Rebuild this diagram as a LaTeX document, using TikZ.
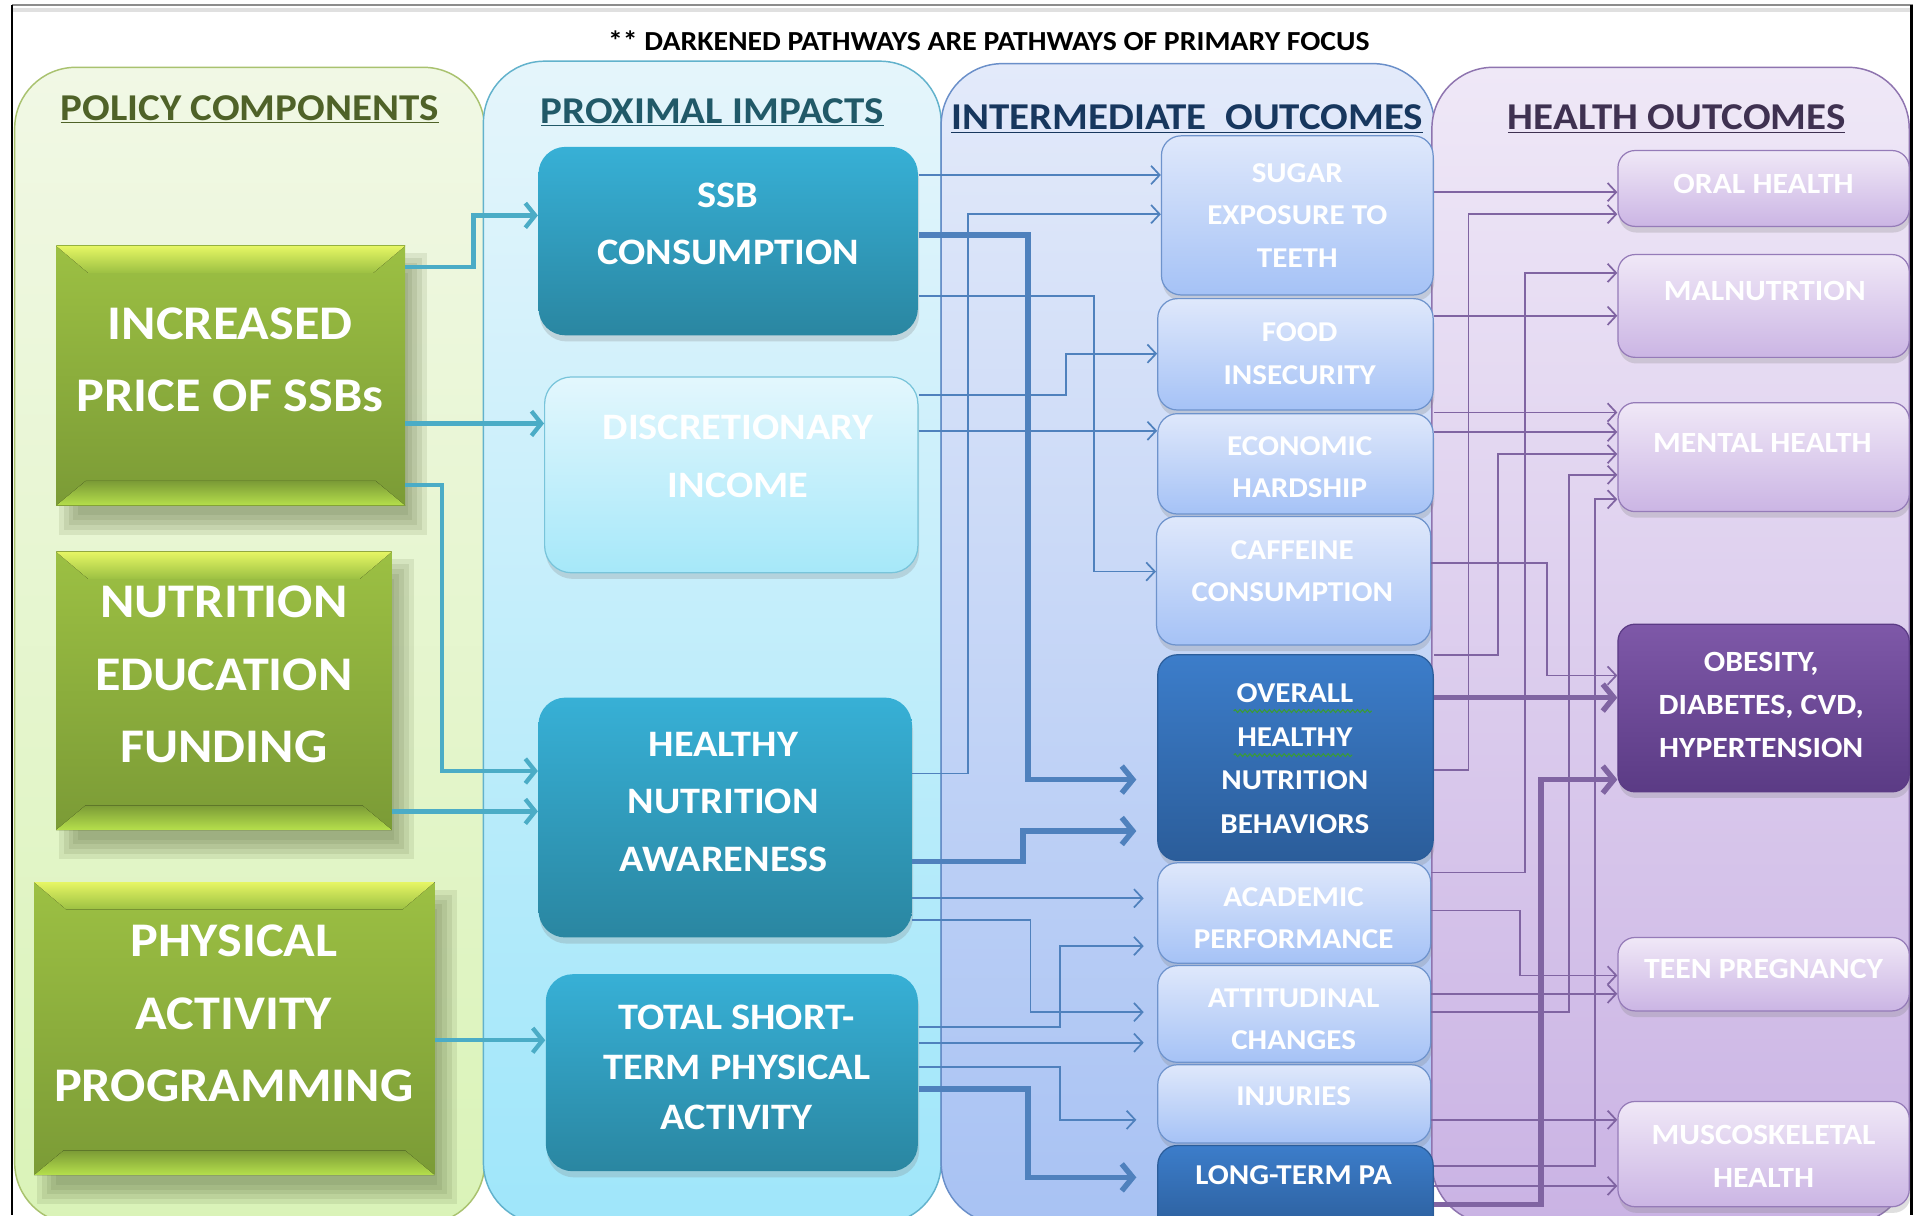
\documentclass[tikz,border=0pt]{standalone}
\usepackage{fontspec}
\setmainfont{Carlito}[FakeStretch=1.08]
\usepackage{tikz}
\usetikzlibrary{arrows.meta, fit, shadows, decorations.pathmorphing}

% lane backgrounds
\definecolor{policytop}{HTML}{F1F8E5}
\definecolor{policybot}{HTML}{DAF3B8}
\definecolor{policyrule}{HTML}{A9C26F}
\definecolor{proxtop}{HTML}{E5F5FB}
\definecolor{proxbot}{HTML}{9FE6FA}
\definecolor{proxrule}{HTML}{62B2CC}
\definecolor{midtop}{HTML}{E3EAFA}
\definecolor{midbot}{HTML}{A8C2F3}
\definecolor{midrule}{HTML}{6A8FC9}
\definecolor{healthtop}{HTML}{EFE8F7}
\definecolor{healthbot}{HTML}{CAB3E4}
\definecolor{healthrule}{HTML}{8E74AF}
% boxes
\definecolor{greenhi}{HTML}{E6F664}
\definecolor{greentop}{HTML}{9CC043}
\definecolor{greenbot}{HTML}{7B9B36}
\definecolor{greenlo}{HTML}{B6E04C}
\definecolor{greenshade}{HTML}{5E6E40}
\definecolor{tealtop}{HTML}{37B0D6}
\definecolor{tealbot}{HTML}{2A86A1}
\definecolor{palecyantop}{HTML}{E3F7FD}
\definecolor{palecyanbot}{HTML}{A6E8F9}
\definecolor{palecyanrule}{HTML}{78C4DA}
\definecolor{palebluetop}{HTML}{DFE8FB}
\definecolor{palebluebot}{HTML}{A5C2F6}
\definecolor{palebluerule}{HTML}{6E93CC}
\definecolor{deepbluetop}{HTML}{3C7DCA}
\definecolor{deepbluebot}{HTML}{2B5D9A}
\definecolor{palepurtop}{HTML}{F0E8F7}
\definecolor{palepurbot}{HTML}{CBB5E4}
\definecolor{palepurrule}{HTML}{957BB8}
\definecolor{deeppurtop}{HTML}{7E58A8}
\definecolor{deeppurbot}{HTML}{5B3B85}
% links and headings
\definecolor{linkteal}{HTML}{4BACC6}
\definecolor{linkblue}{HTML}{4F81BD}
\definecolor{linkpurple}{HTML}{8064A2}
\definecolor{hdrolive}{HTML}{4F6228}
\definecolor{hdrteal}{HTML}{215968}
\definecolor{hdrnavy}{HTML}{17375E}
\definecolor{hdrplum}{HTML}{3F3151}
\definecolor{spellgreen}{HTML}{3A9A3A}

\tikzset{
  lane/.style={line width=1.2pt, rounded corners=50pt},
  stagebox/.style={inner sep=0pt, line width=1pt, rounded corners=22pt},
  softshadow/.style={drop shadow={shadow xshift=1pt, shadow yshift=-5pt, opacity=0.25}},
  policybox/.style={inner sep=0pt, top color=greentop, bottom color=greenbot},
  tealbox/.style={stagebox, top color=tealtop, bottom color=tealbot, softshadow},
  cyanbox/.style={stagebox, draw=palecyanrule, top color=palecyantop, bottom color=palecyanbot, softshadow},
  midbox/.style={stagebox, rounded corners=16pt, draw=palebluerule, top color=palebluetop, bottom color=palebluebot, softshadow},
  middark/.style={stagebox, rounded corners=16pt, draw=deepbluebot, top color=deepbluetop, bottom color=deepbluebot, softshadow},
  outbox/.style={stagebox, rounded corners=14pt, draw=palepurrule, top color=palepurtop, bottom color=palepurbot, softshadow},
  outdark/.style={stagebox, rounded corners=14pt, draw=deeppurbot, top color=deeppurtop, bottom color=deeppurbot, softshadow},
  policytext/.style={text=white, align=center, font=\fontsize{39.5}{59}\selectfont\bfseries},
  impacttext/.style={text=white, align=center, font=\fontsize{30.5}{47}\selectfont\bfseries},
  midtext/.style={text=white, align=center, font=\fontsize{23.5}{34.5}\selectfont\bfseries},
  outtext/.style={text=white, align=center, font=\fontsize{24}{35}\selectfont\bfseries},
  header/.style={font=\fontsize{31}{36}\selectfont\bfseries},
  tealink/.style={draw=linkteal, line width=3.5pt, -{Straight Barb[length=8pt,width=20pt]}},
  bluelink/.style={draw=linkblue, line width=1.4pt, -{Straight Barb[length=7pt,width=15pt]}},
  bluebold/.style={draw=linkblue, line width=4.5pt, -{Straight Barb[length=9pt,width=22pt]}},
  purplink/.style={draw=linkpurple, line width=1.4pt, -{Straight Barb[length=7pt,width=15pt]}},
  purpbold/.style={draw=linkpurple, line width=4.5pt, -{Straight Barb[length=9pt,width=22pt]}},
  squiggle/.style={spellgreen, line width=0.9pt, decorate,
    decoration={snake, amplitude=1.2pt, segment length=4pt}}
}

% bevelled green block: name, x1, y1, x2, y2
\newcommand{\policyblock}[5]{%
  \foreach \s in {0,4,8,12,16}
    \fill[greenshade, opacity=0.13] (#2+2+\s,#3+6+\s) rectangle (#4+18-\s,#5+24-\s);
  \node[policybox, fit={(#2,#3) (#4,#5)}] (#1) {};
  \fill[top color=greenhi, bottom color=greentop]
    (#1.north west) -- (#1.north east) -- (#4-26,#3+22) -- (#2+26,#3+22) -- cycle;
  \fill[top color=greenbot, bottom color=greenlo]
    (#1.south west) -- (#1.south east) -- (#4-24,#5-20) -- (#2+24,#5-20) -- cycle;
}
% elbow link: style, from, y out, x of turn, y in, to
\newcommand{\pathway}[6]{%
  \draw[#1] (#2.east |- 0,#3) -| (#4,#5) -- (#6.west |- 0,#5);
}
% straight link: style, from, y, to
\newcommand{\straightway}[4]{%
  \draw[#1] (#2.east |- 0,#3) -- (#4.west |- 0,#3);
}

\begin{document}
\begin{tikzpicture}[x=1pt, y=-1pt]
  \useasboundingbox (0,0) rectangle (1568,993);
  \clip (0,0) rectangle (1568,993);
  \fill[white] (0,0) rectangle (1568,993);

  % frame
  \draw[black!12, line width=3pt] (10,8) -- (1563,8);
  \draw[black!45, line width=2pt] (10,4) -- (1563,4);

  % lanes
  \draw[lane, draw=policyrule, top color=policytop, bottom color=policybot] (12,55) rectangle (396,1000);
  \draw[lane, draw=proxrule, top color=proxtop, bottom color=proxbot] (395,50) rectangle (769,1000);
  \draw[lane, draw=midrule, top color=midtop, bottom color=midbot] (769,52) rectangle (1172,1000);
  \draw[lane, draw=healthrule, top color=healthtop, bottom color=healthbot] (1170,55) rectangle (1560,1000);

  \draw[black, line width=2pt] (10,4) -- (10,993);
  \draw[black, line width=2pt] (1562,4) -- (1562,993);

  \node[font=\fontsize{22.5}{26}\selectfont\bfseries] (banner) at (808,33)
    {** DARKENED PATHWAYS ARE PATHWAYS OF PRIMARY FOCUS};
  \node[header, hdrolive] (policyhdr) at (204,89) {\underline{POLICY COMPONENTS}};
  \node[header, hdrteal] (proxhdr) at (582,92) {\underline{PROXIMAL IMPACTS}};
  \node[header, hdrnavy] (midhdr) at (970,97) {\underline{INTERMEDIATE\ \ OUTCOMES}};
  \node[header, hdrplum] (healthhdr) at (1370,97) {\underline{HEALTH OUTCOMES}};

  % policy components
  \policyblock{price}{46}{201}{331}{413}
  \policyblock{nutri}{46}{451}{320}{678}
  \policyblock{phys}{28}{721}{355}{960}
  \node[policytext] (price-lbl) at (188,294) {INCREASED\\PRICE OF SSBs};
  \node[policytext] (nutri-lbl) at (183,551) {NUTRITION\\EDUCATION\\FUNDING};
  \node[policytext] (phys-lbl) at (191,828) {PHYSICAL\\ACTIVITY\\PROGRAMMING};

  % proximal impacts
  \node[tealbox, fit={(440,120) (750,274)}] (ssb) {};
  \node[cyanbox, fit={(445,308) (750,468)}] (disc) {};
  \node[tealbox, fit={(440,570) (745,766)}] (aware) {};
  \node[tealbox, fit={(446,796) (750,957)}] (total) {};
  \node[impacttext] (ssb-lbl) at (595,183) {SSB\\CONSUMPTION};
  \node[impacttext] (disc-lbl) at (603,373) {DISCRETIONARY\\INCOME};
  \node[impacttext] (aware-lbl) at (591,655) {HEALTHY\\NUTRITION\\AWARENESS};
  \node[impacttext, font=\fontsize{30.5}{41}\selectfont\bfseries] (total-lbl) at (602,872)
    {TOTAL SHORT-\\TERM PHYSICAL\\ACTIVITY};

  % intermediate outcomes
  \node[midbox, fit={(949,111) (1171,241)}] (sugar) {};
  \node[midbox, fit={(946,244) (1171,335)}] (food) {};
  \node[midbox, fit={(946,338) (1171,420)}] (econ) {};
  \node[midbox, fit={(945,422) (1169,527)}] (caff) {};
  \node[middark, fit={(946,535) (1171,703)}] (overall) {};
  \node[midbox, fit={(946,705) (1169,787)}] (acad) {};
  \node[midbox, fit={(946,789) (1169,868)}] (attit) {};
  \node[midbox, fit={(946,870) (1169,934)}] (injur) {};
  \node[middark, fit={(946,936) (1171,1010)}] (longpa) {};
  \node[midtext] (sugar-lbl) at (1060,176) {SUGAR\\EXPOSURE TO\\TEETH};
  \node[midtext] (food-lbl) at (1062,289) {FOOD\\INSECURITY};
  \node[midtext] (econ-lbl) at (1062,382) {ECONOMIC\\HARDSHIP};
  \node[midtext] (caff-lbl) at (1056,467) {CAFFEINE\\CONSUMPTION};
  \node[midtext, font=\fontsize{23.5}{35.5}\selectfont\bfseries] (overall-lbl) at (1058,620)
    {OVERALL\\HEALTHY\\NUTRITION\\BEHAVIORS};
  \node[midtext] (acad-lbl) at (1057,750) {ACADEMIC\\PERFORMANCE};
  \node[midtext] (attit-lbl) at (1057,833) {ATTITUDINAL\\CHANGES};
  \node[midtext] (injur-lbl) at (1057,896) {INJURIES};
  \node[midtext] (longpa-lbl) at (1057,960) {LONG-TERM PA};
  \draw[squiggle] (1008,581) -- (1121,581);
  \draw[squiggle] (1008,617) -- (1105,617);

  % health outcomes
  \node[outbox, fit={(1322,123) (1560,185)}] (oral) {};
  \node[outbox, fit={(1322,208) (1560,292)}] (maln) {};
  \node[outbox, fit={(1322,329) (1560,418)}] (mental) {};
  \node[outdark, fit={(1322,510) (1560,647)}] (obes) {};
  \node[outbox, fit={(1322,766) (1560,826)}] (teen) {};
  \node[outbox, fit={(1322,900) (1560,986)}] (musc) {};
  \node[outtext] (oral-lbl) at (1441,150) {ORAL HEALTH};
  \node[outtext] (maln-lbl) at (1442,238) {MALNUTRTION};
  \node[outtext] (mental-lbl) at (1440,362) {MENTAL HEALTH};
  \node[outtext] (obes-lbl) at (1439,576) {OBESITY,\\DIABETES, CVD,\\HYPERTENSION};
  \node[outtext] (teen-lbl) at (1441,792) {TEEN PREGNANCY};
  \node[outtext] (musc-lbl) at (1441,945) {MUSCOSKELETAL\\HEALTH};

  % policy components -> proximal impacts
  \pathway{tealink}{price}{218}{387}{176}{ssb}
  \straightway{tealink}{price}{346}{disc}
  \pathway{tealink}{price}{396}{361}{630}{aware}
  \straightway{tealink}{nutri}{663}{aware}
  \straightway{tealink}{phys}{850}{total}

  % proximal impacts -> intermediate outcomes
  \straightway{bluelink}{ssb}{143}{sugar}
  \pathway{bluebold, shorten >=17pt}{ssb}{192}{840}{637}{overall}
  \pathway{bluelink}{ssb}{242}{894}{467}{caff}
  \pathway{bluelink}{disc}{323}{871}{289}{food}
  \straightway{bluelink}{disc}{352}{econ}
  \pathway{bluelink}{aware}{632}{791}{175}{sugar}
  \pathway{bluebold, shorten >=17pt}{aware}{704}{836}{679}{overall}
  \straightway{bluelink, shorten >=11pt}{aware}{734}{acad}
  \pathway{bluelink, shorten >=11pt}{aware}{752}{842}{827}{attit}
  \pathway{bluelink, shorten >=11pt}{total}{839}{866}{773}{acad}
  \straightway{bluelink, shorten >=11pt}{total}{852}{attit}
  \pathway{bluelink, shorten >=17pt}{total}{872}{866}{915}{injur}
  \pathway{bluebold, shorten >=17pt}{total}{890}{840}{962}{longpa}

  % intermediate outcomes -> health outcomes
  \straightway{purplink}{sugar}{157}{oral}
  \pathway{purplink}{overall}{629}{1200}{175}{oral}
  \straightway{purplink}{food}{258}{maln}
  \pathway{purplink}{acad}{713}{1246}{223}{maln}
  \straightway{purplink}{food}{337}{mental}
  \straightway{purplink}{econ}{353}{mental}
  \pathway{purplink}{overall}{535}{1224}{371}{mental}
  \pathway{purplink}{attit}{827}{1282}{388}{mental}
  \pathway{purplink}{longpa}{953}{1303}{408}{mental}
  \pathway{purplink}{caff}{460}{1264}{552}{obes}
  \straightway{purpbold}{overall}{570}{obes}
  \pathway{purpbold}{longpa}{984}{1259}{637}{obes}
  \pathway{purplink}{acad}{744}{1242}{797}{teen}
  \straightway{purplink}{attit}{812}{teen}
  \straightway{purplink}{injur}{915}{musc}
  \straightway{purplink}{longpa}{969}{musc}
\end{tikzpicture}
\end{document}
